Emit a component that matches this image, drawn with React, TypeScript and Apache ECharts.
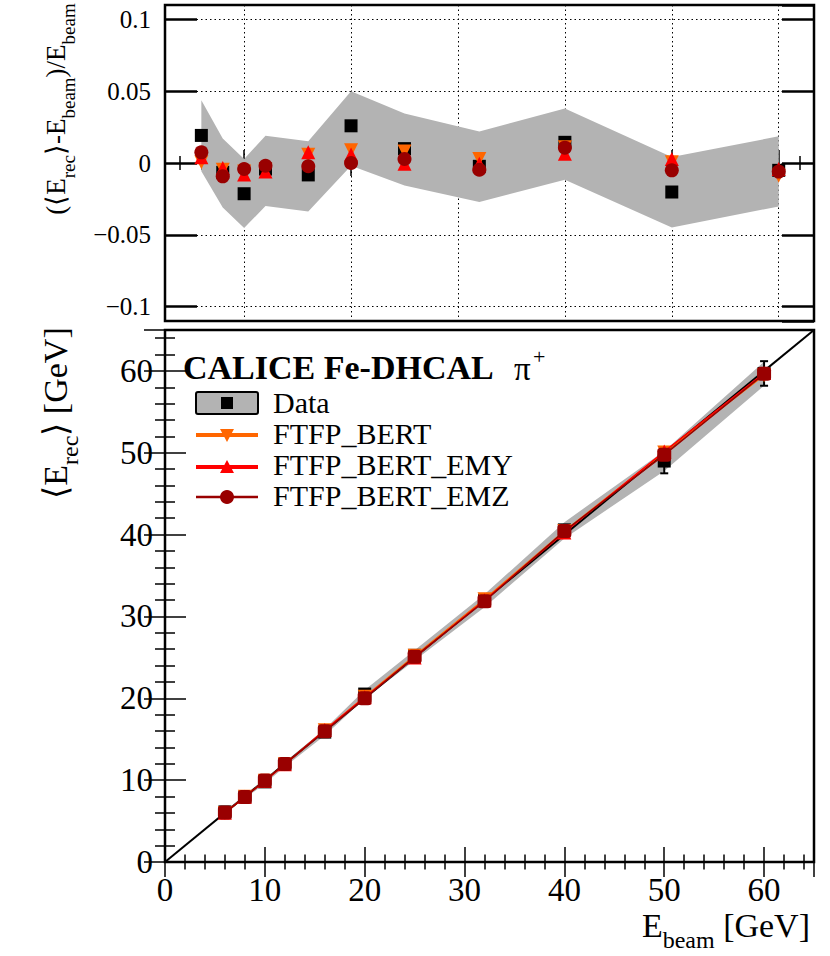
import React, { useEffect, useRef } from "react";
import * as echarts from "echarts";

// Beam energies [GeV]
const energies = [6, 8, 10, 12, 16, 20, 25, 32, 40, 50, 60];

// Top panel: (<E_rec> - E_beam) / E_beam
const dataRatio = [0.0192, -0.0065, -0.0214, -0.0042, -0.0083, 0.0259, 0.01, -0.0023, 0.0144, -0.0202, -0.0051];
const bertRatio = [0.0005, -0.0047, -0.006, -0.0047, 0.0058, 0.0088, 0.008, 0.0028, 0.011, 0.0005, -0.0088];
const emyRatio = [0.004, -0.0035, -0.008, -0.006, 0.0074, 0.006, -0.0005, -0.0005, 0.0065, 0.0028, -0.0042];
const emzRatio = [0.0074, -0.0093, -0.0042, -0.0019, -0.0023, 0.0, 0.0028, -0.0047, 0.0107, -0.0051, -0.006];
const bandRatioUpper = [0.0437, 0.017, 0.0028, 0.019, 0.0151, 0.05, 0.0344, 0.0219, 0.0379, 0.0042, 0.0186];
const bandRatioLower = [-0.0058, -0.031, -0.0453, -0.03, -0.0337, -0.0019, -0.0156, -0.0272, -0.0116, -0.0449, -0.0302];

// Bottom panel: <E_rec> [GeV]
const dataErec = [6.12, 7.95, 9.79, 11.95, 15.87, 20.52, 25.25, 31.93, 40.58, 48.99, 59.69];
const dataErecErr = [0.1, 0.12, 0.15, 0.2, 0.25, 0.3, 0.4, 0.5, 0.6, 1.5, 1.5];
const bertErec = [6.0, 7.96, 9.94, 11.94, 16.09, 20.18, 25.2, 32.09, 40.44, 50.03, 59.47];
const emyErec = [6.02, 7.97, 9.92, 11.93, 16.12, 20.12, 24.99, 31.98, 40.26, 50.14, 59.75];
const emzErec = [6.04, 7.93, 9.96, 11.98, 15.96, 20.0, 25.07, 31.85, 40.43, 49.75, 59.64];
const bandErecUpper = [6.26, 8.14, 10.03, 12.23, 16.24, 21.0, 25.86, 32.7, 41.52, 50.21, 61.12];
const bandErecLower = [5.97, 7.75, 9.55, 11.64, 15.46, 19.96, 24.61, 31.13, 39.54, 47.76, 58.19];

// Reference diagonal E_rec = E_beam
const diagonal = [0, 65];

// Texts
const topYTitle = [
  { t: "(\u27E8E", sub: false },
  { t: "rec", sub: true },
  { t: "\u27E9-E", sub: false },
  { t: "beam", sub: true },
  { t: ")/E", sub: false },
  { t: "beam", sub: true },
];
const botYTitle = [
  { t: "\u27E8E", sub: false },
  { t: "rec", sub: true },
  { t: "\u27E9 [GeV]", sub: false },
];
const xTitle = [
  { t: "E", sub: false },
  { t: "beam", sub: true },
  { t: " [GeV]", sub: false },
];
const legendTitle = "CALICE Fe-DHCAL";
const legendLabels = ["Data", "FTFP_BERT", "FTFP_BERT_EMY", "FTFP_BERT_EMZ"];

const FONT = "Liberation Serif";
const C_DATA = "#000000";
const C_BERT = "#ff6600";
const C_EMY = "#ff0000";
const C_EMZ = "#990000";
const C_BAND = "#b3b3b3";

const minusFmt = (v: number) => {
  const r = Math.round(v * 1000) / 1000;
  if (r === 0) return "0";
  return r < 0 ? "\u2212" + String(Math.abs(r)) : String(r);
};

let measureCtx: CanvasRenderingContext2D | null = null;
function measure(t: string, size: number) {
  if (!measureCtx) measureCtx = document.createElement("canvas").getContext("2d");
  if (!measureCtx) return t.length * size * 0.5;
  measureCtx.font = `${size}px "${FONT}"`;
  return measureCtx.measureText(t).width;
}

// Builds a text with subscripts out of separate text elements
function subText(
  parts: { t: string; sub: boolean }[],
  x: number,
  y: number,
  mainSize: number,
  subSize: number,
  subDy: number,
  anchor: "center" | "right",
  rotation: number
) {
  const widths = parts.map((p) => measure(p.t, p.sub ? subSize : mainSize));
  const total = widths.reduce((a, b) => a + b, 0);
  let cur = anchor === "center" ? -total / 2 : -total;
  const children: any[] = [];
  parts.forEach((p, i) => {
    children.push({
      type: "text",
      x: cur,
      y: p.sub ? subDy : 0,
      style: {
        text: p.t,
        fontFamily: FONT,
        fontSize: p.sub ? subSize : mainSize,
        fill: "#000",
        align: "left",
        verticalAlign: "middle",
      },
    });
    cur += widths[i];
  });
  return { type: "group", x, y, rotation, children };
}

function bandItem(xs: number[], up: number[], lo: number[]) {
  return (params: any, api: any) => {
    const pts: number[][] = [];
    for (let i = 0; i < xs.length; i++) pts.push(api.coord([xs[i], up[i]]));
    for (let i = xs.length - 1; i >= 0; i--) pts.push(api.coord([xs[i], lo[i]]));
    return { type: "polygon", shape: { points: pts }, style: { fill: C_BAND } };
  };
}

export default function App() {
  const ref = useRef<HTMLDivElement>(null);
  useEffect(() => {
    if (!ref.current) return;
    const chart = echarts.init(ref.current, undefined, { renderer: "svg" });

    const tickStyle = { color: "#000", width: 1.5 };
    const dotted = { color: "#000", width: 1, type: [1.5, 3] as any };

    const topX = {
      type: "value",
      min: 2.6,
      max: 63.3,
      minInterval: 10,
      maxInterval: 10,
      axisLine: { show: false },
      axisLabel: { show: false },
      axisTick: { show: true, inside: true, length: 13, lineStyle: tickStyle },
      minorTick: { show: true, splitNumber: 5, length: 7, lineStyle: tickStyle },
    };
    const topY = {
      type: "value",
      min: -0.11,
      max: 0.11,
      minInterval: 0.05,
      maxInterval: 0.05,
      axisLine: { show: false },
      axisTick: { show: true, inside: true, length: 32, lineStyle: { color: "#000", width: 2.5 } },
      minorTick: { show: false },
    };
    const botX = {
      type: "value",
      min: 0,
      max: 65,
      interval: 10,
      axisLine: { show: false },
      axisTick: { show: true, inside: true, length: 15, lineStyle: tickStyle },
      minorTick: { show: true, splitNumber: 5, length: 7.5, lineStyle: tickStyle },
      splitLine: { show: false },
    };
    const botY = {
      ...botX,
      axisTick: { show: true, inside: true, length: 21, lineStyle: tickStyle },
      minorTick: { show: true, splitNumber: 5, length: 10, lineStyle: tickStyle },
    };
    const labelStyle = { fontFamily: FONT, color: "#000" };
    const solid = (c: string) => ({ color: c, opacity: 1 });

    const option: any = {
      animation: false,
      backgroundColor: "#ffffff",
      grid: [
        { left: 165, top: 5, width: 649, height: 316, show: true, borderColor: "#000", borderWidth: 2.5, backgroundColor: "transparent", containLabel: false, outerBoundsMode: "none" },
        { left: 165, top: 330, width: 649, height: 532, show: true, borderColor: "#000", borderWidth: 2.5, backgroundColor: "transparent", containLabel: false, outerBoundsMode: "none" },
      ],
      xAxis: [
        { ...topX, gridIndex: 0, position: "bottom", splitLine: { show: true, lineStyle: dotted } },
        { ...topX, gridIndex: 0, position: "top", splitLine: { show: false } },
        {
          ...botX,
          gridIndex: 1,
          position: "bottom",
          axisLabel: { show: true, margin: 11, fontSize: 33, ...labelStyle, showMaxLabel: false, formatter: (v: number) => String(v) },
        },
        { ...botX, gridIndex: 1, position: "top", axisLabel: { show: false } },
      ],
      yAxis: [
        {
          ...topY,
          gridIndex: 0,
          position: "left",
          splitLine: { show: true, lineStyle: dotted },
          axisLabel: { show: true, margin: 14, fontSize: 25, ...labelStyle, showMinLabel: false, showMaxLabel: false, formatter: minusFmt },
        },
        { ...topY, gridIndex: 0, position: "right", splitLine: { show: false }, axisLabel: { show: false } },
        {
          ...botY,
          gridIndex: 1,
          position: "left",
          axisLabel: { show: true, margin: 12, fontSize: 33, ...labelStyle, showMaxLabel: false, formatter: (v: number) => String(v) },
        },
        { ...botY, gridIndex: 1, position: "right", axisLabel: { show: false } },
      ],
      series: [
        // ---------- top panel ----------
        {
          type: "custom",
          xAxisIndex: 0,
          yAxisIndex: 0,
          data: [[energies[0], 0]],
          silent: true,
          clip: true,
          renderItem: bandItem(energies, bandRatioUpper, bandRatioLower),
          z: 1,
        },
        {
          type: "scatter",
          xAxisIndex: 0,
          yAxisIndex: 0,
          data: energies.map((e, i) => [e, dataRatio[i]]),
          symbol: "rect",
          symbolSize: 13,
          itemStyle: solid(C_DATA),
          z: 3,
        },
        {
          type: "scatter",
          xAxisIndex: 0,
          yAxisIndex: 0,
          data: energies.map((e, i) => [e, bertRatio[i]]),
          symbol: "triangle",
          symbolRotate: 180,
          symbolSize: 14,
          itemStyle: solid(C_BERT),
          z: 4,
        },
        {
          type: "scatter",
          xAxisIndex: 0,
          yAxisIndex: 0,
          data: energies.map((e, i) => [e, emyRatio[i]]),
          symbol: "triangle",
          symbolSize: 14,
          itemStyle: solid(C_EMY),
          z: 5,
        },
        {
          type: "scatter",
          xAxisIndex: 0,
          yAxisIndex: 0,
          data: energies.map((e, i) => [e, emzRatio[i]]),
          symbol: "circle",
          symbolSize: 14,
          itemStyle: solid(C_EMZ),
          z: 6,
        },
        // ---------- bottom panel ----------
        {
          type: "custom",
          xAxisIndex: 2,
          yAxisIndex: 2,
          data: [[energies[0], 0]],
          silent: true,
          clip: true,
          renderItem: bandItem(energies, bandErecUpper, bandErecLower),
          z: 1,
        },
        {
          type: "line",
          xAxisIndex: 2,
          yAxisIndex: 2,
          data: [
            [diagonal[0], diagonal[0]],
            [diagonal[1], diagonal[1]],
          ],
          showSymbol: false,
          symbol: "none",
          lineStyle: { color: "#000", width: 2 },
          z: 2,
        },
        {
          type: "custom",
          xAxisIndex: 2,
          yAxisIndex: 2,
          data: energies.map((e, i) => [e, dataErec[i] - dataErecErr[i], dataErec[i] + dataErecErr[i]]),
          silent: true,
          renderItem: (params: any, api: any) => {
            const lo = api.coord([api.value(0), api.value(1)]);
            const hi = api.coord([api.value(0), api.value(2)]);
            const st = { stroke: "#000", lineWidth: 2 };
            return {
              type: "group",
              children: [
                { type: "line", shape: { x1: lo[0], y1: lo[1], x2: hi[0], y2: hi[1] }, style: st },
                { type: "line", shape: { x1: lo[0] - 4, y1: lo[1], x2: lo[0] + 4, y2: lo[1] }, style: st },
                { type: "line", shape: { x1: hi[0] - 4, y1: hi[1], x2: hi[0] + 4, y2: hi[1] }, style: st },
              ],
            };
          },
          z: 3,
        },
        {
          type: "scatter",
          xAxisIndex: 2,
          yAxisIndex: 2,
          data: energies.map((e, i) => [e, dataErec[i]]),
          symbol: "rect",
          symbolSize: 13,
          itemStyle: solid(C_DATA),
          z: 3,
        },
        {
          type: "line",
          xAxisIndex: 2,
          yAxisIndex: 2,
          data: energies.map((e, i) => [e, bertErec[i]]),
          symbol: "triangle",
          symbolRotate: 180,
          symbolSize: 14,
          showSymbol: true,
          itemStyle: solid(C_BERT),
          lineStyle: { color: C_BERT, width: 1.5 },
          z: 4,
        },
        {
          type: "line",
          xAxisIndex: 2,
          yAxisIndex: 2,
          data: energies.map((e, i) => [e, emyErec[i]]),
          symbol: "triangle",
          symbolSize: 14,
          showSymbol: true,
          itemStyle: solid(C_EMY),
          lineStyle: { color: C_EMY, width: 1.5 },
          z: 5,
        },
        {
          type: "line",
          xAxisIndex: 2,
          yAxisIndex: 2,
          data: energies.map((e, i) => [e, emzErec[i]]),
          symbol: "roundRect",
          symbolSize: 14,
          showSymbol: true,
          itemStyle: solid(C_EMZ),
          lineStyle: { color: C_EMZ, width: 1.5 },
          z: 6,
        },
      ],
      graphic: [
        // axis titles
        subText(topYTitle, 56, 109, 27, 19, 12, "center", Math.PI / 2),
        subText(botYTitle, 55, 413, 34, 24, 15, "center", Math.PI / 2),
        subText(xTitle, 810, 925, 34, 24, 15, "right", 0),
        // legend header
        {
          type: "text",
          x: 183,
          y: 367,
          style: { text: legendTitle, fontFamily: FONT, fontWeight: "bold", fontSize: 34, fill: "#000", verticalAlign: "middle", align: "left" },
        },
        {
          type: "text",
          x: 514,
          y: 369,
          style: { text: "\u03C0", fontFamily: FONT, fontSize: 33, fill: "#000", verticalAlign: "middle", align: "left" },
        },
        {
          type: "text",
          x: 533,
          y: 356,
          style: { text: "+", fontFamily: FONT, fontSize: 22, fill: "#000", verticalAlign: "middle", align: "left" },
        },
        // legend: Data
        { type: "rect", shape: { x: 196, y: 392, width: 62, height: 22, r: 2 }, style: { fill: C_BAND, stroke: "#000", lineWidth: 2 } },
        { type: "rect", shape: { x: 221, y: 397, width: 12, height: 12 }, style: { fill: "#000" } },
        { type: "text", x: 273, y: 402, style: { text: legendLabels[0], fontFamily: FONT, fontSize: 30, fill: "#000", verticalAlign: "middle" } },
        // legend: FTFP_BERT
        { type: "line", shape: { x1: 196, y1: 435, x2: 258, y2: 435 }, style: { stroke: C_BERT, lineWidth: 4 } },
        { type: "polygon", shape: { points: [[220, 429], [234, 429], [227, 442]] }, style: { fill: C_BERT } },
        { type: "text", x: 273, y: 433, style: { text: legendLabels[1], fontFamily: FONT, fontSize: 30, fill: "#000", verticalAlign: "middle" } },
        // legend: FTFP_BERT_EMY
        { type: "line", shape: { x1: 196, y1: 467, x2: 258, y2: 467 }, style: { stroke: C_EMY, lineWidth: 4 } },
        { type: "polygon", shape: { points: [[220, 473], [234, 473], [227, 460]] }, style: { fill: C_EMY } },
        { type: "text", x: 273, y: 464, style: { text: legendLabels[2], fontFamily: FONT, fontSize: 30, fill: "#000", verticalAlign: "middle" } },
        // legend: FTFP_BERT_EMZ
        { type: "line", shape: { x1: 196, y1: 497, x2: 258, y2: 497 }, style: { stroke: C_EMZ, lineWidth: 2.5 } },
        { type: "circle", shape: { cx: 227, cy: 497, r: 7 }, style: { fill: C_EMZ } },
        { type: "text", x: 273, y: 495, style: { text: legendLabels[3], fontFamily: FONT, fontSize: 30, fill: "#000", verticalAlign: "middle" } },
      ],
    };

    chart.setOption(option);
    return () => chart.dispose();
  }, []);

  return <div ref={ref} style={{ position: "absolute", left: 0, top: 0, width: 830, height: 956 }} />;
}
